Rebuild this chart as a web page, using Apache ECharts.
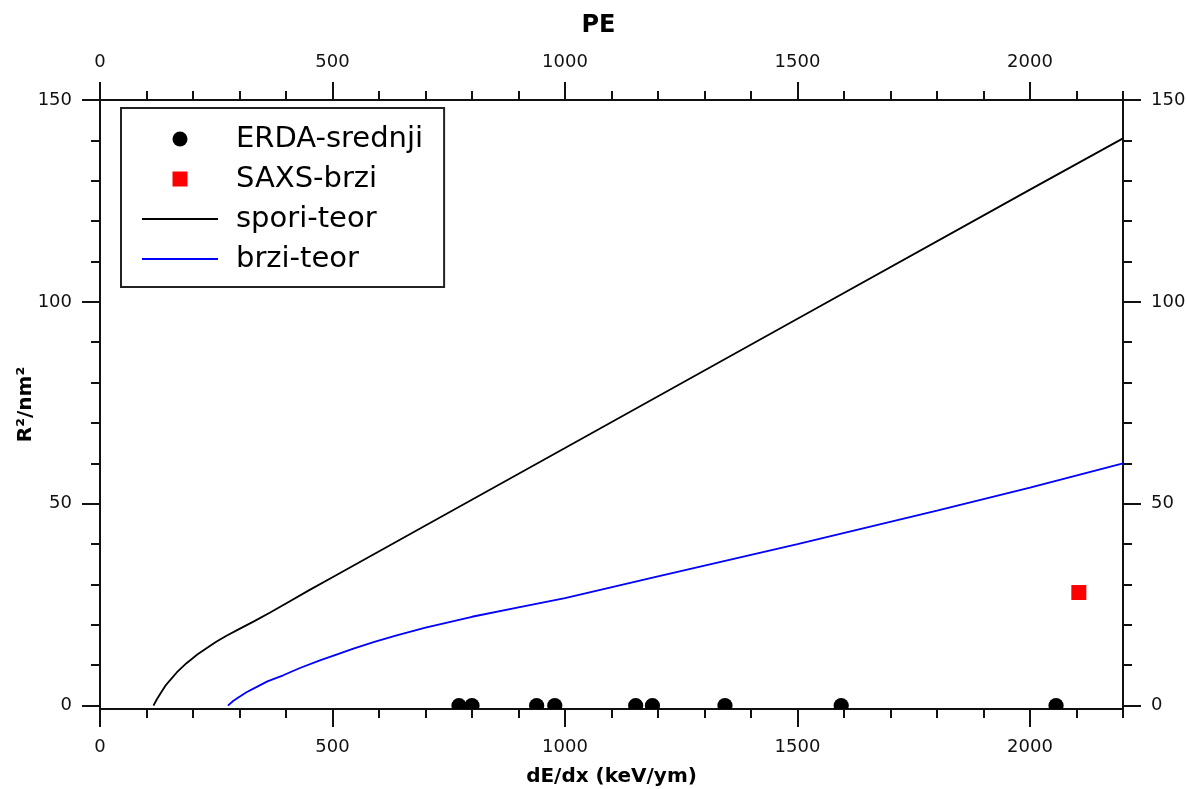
<!DOCTYPE html>
<html>
<head>
<meta charset="utf-8">
<script src="https://cdn.jsdelivr.net/npm/echarts@6/dist/echarts.min.js"></script>
<style>
html,body{margin:0;padding:0;background:#fff;}
#chart{width:1187px;height:789px;}
</style>
</head>
<body>
<div id="chart"></div>
<script>
// ---- data ----
const erdaX = [772, 800, 939, 978, 1152, 1188, 1344, 1594, 2056];
const erdaY = [0, 0, 0, 0, 0, 0, 0, 0, 0];
const saxsX = [2105];
const saxsY = [28];
const sporiX = [115, 122, 130, 140, 150, 165, 186, 210, 229, 250, 272, 300, 330, 365, 400, 450, 500, 700, 1000, 1500, 2000, 2200];
const sporiY = [0, 1.5, 3, 4.8, 6.2, 8.2, 10.5, 12.7, 14.2, 15.8, 17.3, 19, 20.8, 23, 25.3, 28.6, 31.8, 44.6, 63.8, 95.8, 127.8, 140.5];
const brziX = [275, 287, 300, 315, 330, 360, 394, 430, 473, 510, 545, 590, 638, 700, 800, 900, 1000, 1200, 1500, 1800, 2000, 2200];
const brziY = [0, 1.2, 2.2, 3.3, 4.2, 6, 7.5, 9.3, 11.2, 12.7, 14.1, 15.8, 17.4, 19.3, 22, 24.3, 26.6, 32, 40, 48.3, 54, 60];
const seriesNames = ['ERDA-srednji', 'SAXS-brzi', 'spori-teor', 'brzi-teor'];
const xMajorTicks = [0, 500, 1000, 1500, 2000];
const xMinorTicks = [0, 100, 200, 300, 400, 500, 600, 700, 800, 900, 1000, 1100, 1200, 1300, 1400, 1500, 1600, 1700, 1800, 1900, 2000, 2100, 2200];
const yMajorTicks = [0, 50, 100, 150];
const yMinorTicks = [0, 10, 20, 30, 40, 50, 60, 70, 80, 90, 100, 110, 120, 130, 140, 150];
const xName = 'dE/dx (keV/ym)';
const xTopName = 'PE';
const yName = 'R²/nm²';

const zip = (a, b) => a.map((v, i) => [v, b[i]]);
const FONT = 'DejaVu Sans';
const AX = '#111';
const plain = v => String(v);

function xAx(pos, major, withName) {
  return {
    type: 'value', position: pos, min: 0, max: 2200,
    axisLine: { show: true, onZero: false, lineStyle: { color: AX, width: 2 } },
    axisTick: major
      ? { show: true, inside: false, length: 18, customValues: xMajorTicks, lineStyle: { color: AX, width: 2 } }
      : { show: true, inside: false, length: 9, customValues: xMinorTicks, lineStyle: { color: AX, width: 2 } },
    axisLabel: major
      ? { show: true, customValues: xMajorTicks, formatter: plain, margin: 29, color: AX, fontFamily: FONT, fontSize: 18 }
      : { show: false },
    splitLine: { show: false },
    name: withName || '',
    nameLocation: 'middle',
    nameMoveOverlap: false,
    nameGap: pos === 'top' ? 62 : 58,
    nameTextStyle: pos === 'top'
      ? { fontFamily: FONT, fontWeight: 'bold', fontSize: 24, color: '#000', padding: [0, 26, 0, 0] }
      : { fontFamily: FONT, fontWeight: 'bold', fontSize: 20, color: '#000' }
  };
}
function yAx(pos, major, withName) {
  return {
    type: 'value', position: pos, min: -0.85, max: 150,
    axisLine: { show: true, onZero: false, lineStyle: { color: AX, width: 2 } },
    axisTick: major
      ? { show: true, inside: false, length: 18, customValues: yMajorTicks, lineStyle: { color: AX, width: 2 } }
      : { show: true, inside: false, length: 9, customValues: yMinorTicks, lineStyle: { color: AX, width: 2 } },
    axisLabel: major
      ? { show: true, customValues: yMajorTicks, formatter: plain, margin: 28, color: AX, fontFamily: FONT, fontSize: 18 }
      : { show: false },
    splitLine: { show: false },
    name: withName || '',
    nameLocation: 'middle',
    nameMoveOverlap: false,
    nameGap: 64,
    nameTextStyle: { fontFamily: FONT, fontWeight: 'bold', fontSize: 20, color: '#000' }
  };
}

const hiddenSymbol = { opacity: 0 };

const chart = echarts.init(document.getElementById('chart'), null, { renderer: 'canvas' });
chart.setOption({
  animation: false,
  backgroundColor: '#fff',
  grid: { left: 100, top: 100, right: 64, bottom: 80, containLabel: false, outerBoundsMode: 'none' },
  xAxis: [
    xAx('bottom', true, xName),
    xAx('bottom', false),
    xAx('top', true, xTopName),
    xAx('top', false)
  ],
  yAxis: [
    yAx('left', true, yName),
    yAx('left', false),
    yAx('right', true),
    yAx('right', false)
  ],
  legend: {
    orient: 'vertical', left: 121, top: 108,
    padding: [16, 21, 13, 20],
    itemWidth: 76, itemHeight: 15, itemGap: 10,
    borderColor: '#222', borderWidth: 2, backgroundColor: '#fff',
    textStyle: { fontFamily: FONT, fontSize: 29, color: '#000', lineHeight: 30, padding: [0, 0, 0, 13] },
    data: [
      { name: seriesNames[0], icon: 'circle' },
      { name: seriesNames[1], icon: 'path://M0,0L10,0L10,10L0,10Z' },
      { name: seriesNames[2], itemStyle: hiddenSymbol },
      { name: seriesNames[3], itemStyle: hiddenSymbol }
    ]
  },
  series: [
    {
      name: seriesNames[2], type: 'line', xAxisIndex: 0, yAxisIndex: 0,
      data: zip(sporiX, sporiY), showSymbol: false, symbol: 'none', smooth: false,
      lineStyle: { color: '#000', width: 1.8 }, itemStyle: { color: '#000' }, z: 2
    },
    {
      name: seriesNames[3], type: 'line', xAxisIndex: 0, yAxisIndex: 0,
      data: zip(brziX, brziY), showSymbol: false, symbol: 'none', smooth: false,
      lineStyle: { color: '#0000ff', width: 1.8 }, itemStyle: { color: '#0000ff' }, z: 2
    },
    {
      name: seriesNames[0], type: 'custom', xAxisIndex: 0, yAxisIndex: 0,
      data: zip(erdaX, erdaY), clip: true,
      encode: { x: 0, y: 1 },
      itemStyle: { color: '#000' },
      renderItem: function (params, api) {
        const p = api.coord([api.value(0), api.value(1)]);
        return { type: 'circle', shape: { cx: p[0], cy: p[1], r: 7.6 }, style: { fill: '#000' } };
      },
      z: 3
    },
    {
      name: seriesNames[1], type: 'scatter', xAxisIndex: 0, yAxisIndex: 0,
      data: zip(saxsX, saxsY), symbol: 'rect', symbolSize: 15,
      itemStyle: { color: '#ff0000', opacity: 1 }, z: 3
    }
  ]
});
</script>
</body>
</html>
